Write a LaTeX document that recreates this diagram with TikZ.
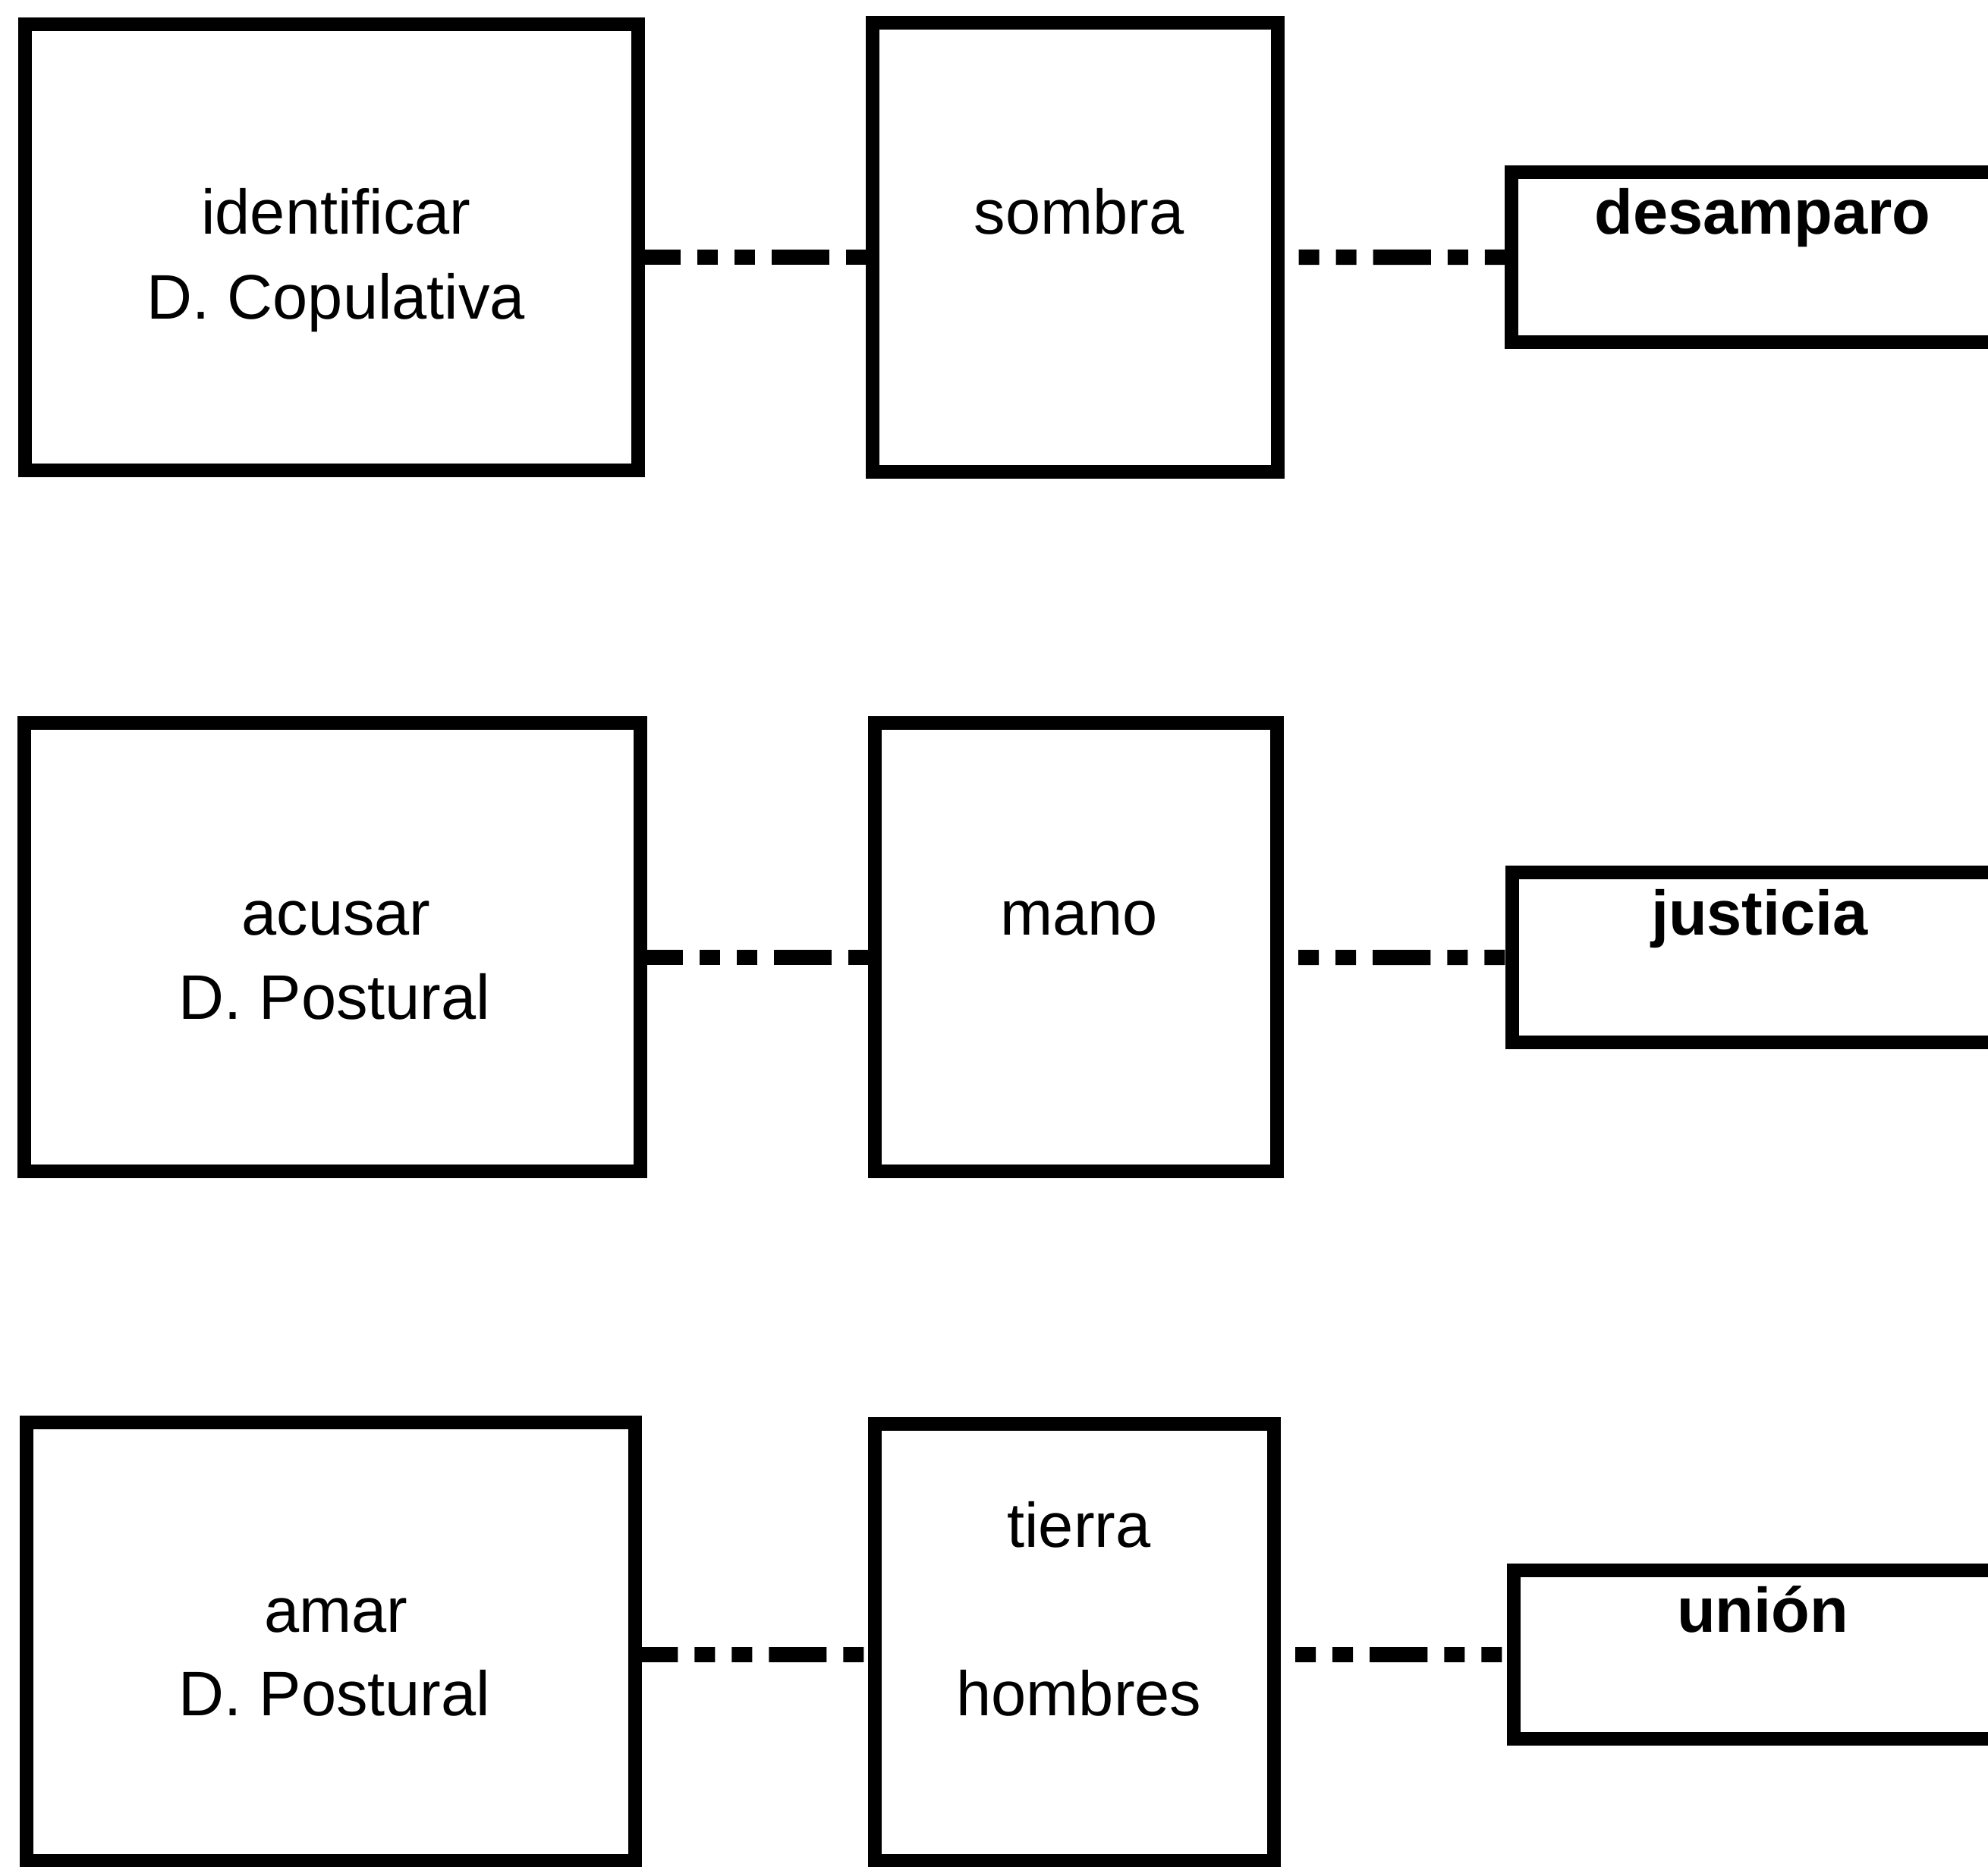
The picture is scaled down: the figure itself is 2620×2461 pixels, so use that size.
\documentclass[tikz,border=0pt]{standalone}
\usepackage{fontspec}
\setmainfont{Liberation Sans}
\begin{document}
\begin{tikzpicture}[x=0.01cm,y=-0.01cm,
  box/.style={draw, line width=0.18cm, rectangle, inner sep=0pt, outer sep=0pt},
  word/.style={anchor=base, inner sep=0pt, font=\fontsize{23.6}{28}\selectfont},
  boldword/.style={anchor=base, inner sep=0pt, font=\fontsize{23.6}{28}\selectfont\bfseries},
  link/.style={line width=0.2cm, dash pattern=on 0.76cm off 0.22cm on 0.27cm off 0.22cm on 0.27cm off 0.22cm},
  leftlink/.style={link, dash phase=0.2cm},
  rightlink/.style={link, dash phase=0.7cm}]
\useasboundingbox (0,0) rectangle (2620,2461);
\clip (0,0) rectangle (2620,2461);

% first row
\node[box, minimum width=8.08cm, minimum height=5.88cm] (a1) at (437,326) {};
\node[box, minimum width=5.33cm, minimum height=5.92cm] (b1) at (1417,326) {};
\node[box, minimum width=6.58cm, minimum height=2.24cm] (c1) at (2321,339) {};
\node[word] (a1t) at (443,309) {identificar};
\node[word] (a1u) at (443,421) {D. Copulativa};
\node[word] (b1t) at (1422,309) {sombra};
\node[boldword] (c1t) at (2323,309) {desamparo};
\draw[leftlink] ([yshift=-0.13cm]a1.east) -- ([yshift=-0.13cm]b1.west);
\draw[rightlink] ([yshift=-0.13cm]b1.east) -- (c1.west);

% second row
\node[box, minimum width=8.12cm, minimum height=5.91cm] (a2) at (438,1248.5) {};
\node[box, minimum width=5.30cm, minimum height=5.91cm] (b2) at (1418,1248.5) {};
\node[box, minimum width=6.57cm, minimum height=2.24cm] (c2) at (2321.5,1262) {};
\node[word] (a2t) at (443,1232) {acusar};
\node[word] (a2u) at (441,1343) {D. Postural};
\node[word] (b2t) at (1422,1232) {mano};
\node[boldword] (c2t) at (2319,1232) {justicia};
\draw[leftlink] ([yshift=-0.135cm]a2.east) -- ([yshift=-0.135cm]b2.west);
\draw[rightlink] ([yshift=-0.135cm]b2.east) -- (c2.west);

% third row
\node[box, minimum width=8.02cm, minimum height=5.78cm] (a3) at (436,2164) {};
\node[box, minimum width=5.26cm, minimum height=5.76cm] (b3) at (1416,2165) {};
\node[box, minimum width=6.55cm, minimum height=2.21cm] (c3) at (2322.5,2181) {};
\node[word] (a3t) at (443,2151) {amar};
\node[word] (a3u) at (441,2261) {D. Postural};
\node[word] (b3t) at (1422,2039) {tierra};
\node[word] (b3u) at (1422,2261) {hombres};
\node[boldword] (c3t) at (2323,2151) {unión};
\draw[leftlink] ([yshift=-0.17cm]a3.east) -- ([yshift=-0.16cm]b3.west);
\draw[rightlink] ([yshift=-0.16cm]b3.east) -- (c3.west);
\end{tikzpicture}
\end{document}
